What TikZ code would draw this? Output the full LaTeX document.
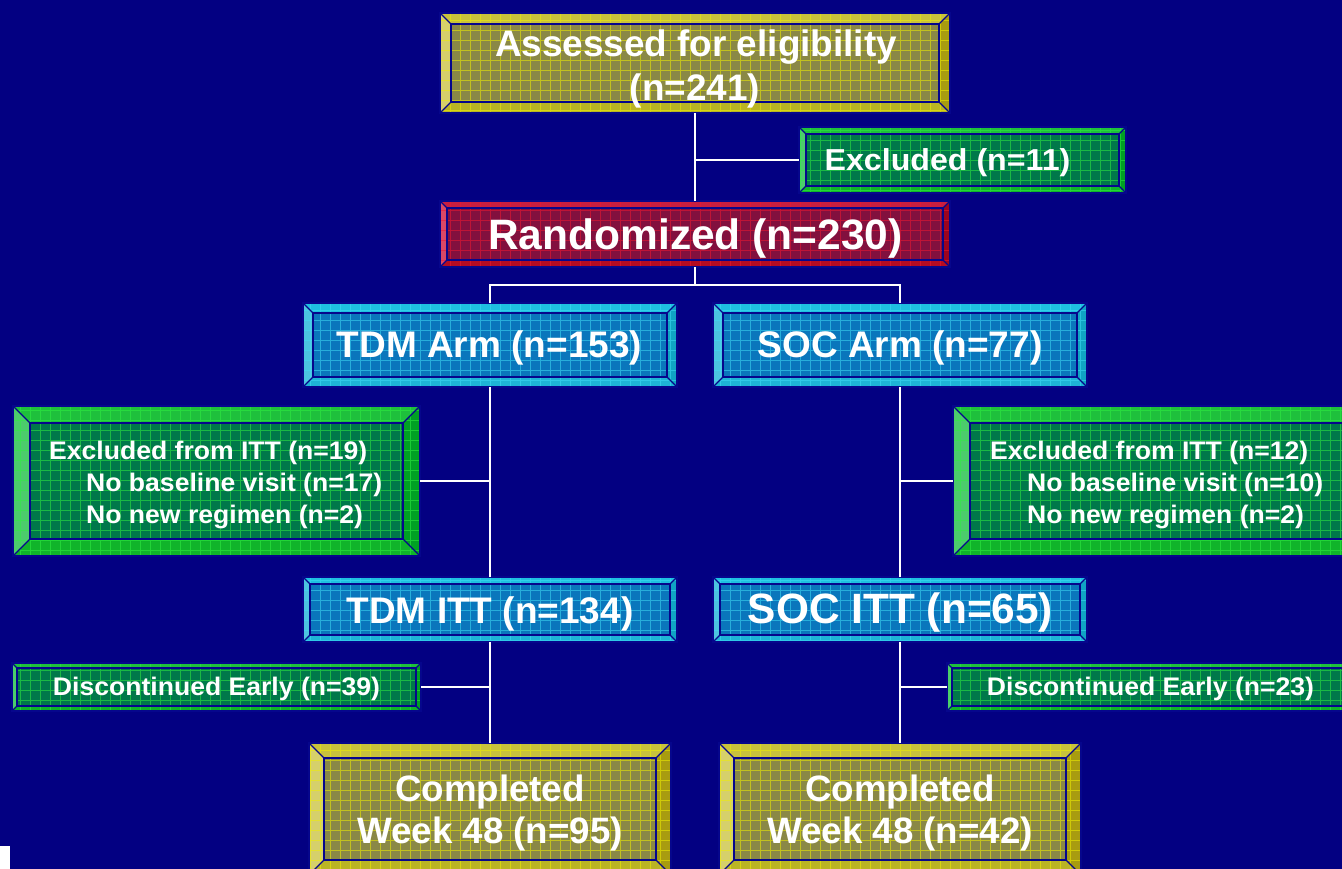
\documentclass[tikz,border=0pt]{standalone}
\usepackage{fontspec}
\usepackage{graphicx}
\setmainfont{Liberation Sans}
\definecolor{bgnavy}{HTML}{030082}
\definecolor{edgenavy}{HTML}{06068C}
% yellow
\definecolor{Yin}{HTML}{8A8846}
\definecolor{Ygrd}{HTML}{F0F000}
\definecolor{Ytop}{HTML}{C8C23C}
\definecolor{Ylft}{HTML}{D6D06A}
\definecolor{Yrgt}{HTML}{A89C10}
\definecolor{Ybot}{HTML}{BAB424}
% red
\definecolor{Rin}{HTML}{82103E}
\definecolor{Rgrd}{HTML}{F01830}
\definecolor{Rtop}{HTML}{C81E40}
\definecolor{Rlft}{HTML}{D84866}
\definecolor{Rrgt}{HTML}{9C0420}
\definecolor{Rbot}{HTML}{B40C22}
% green
\definecolor{Gin}{HTML}{00784A}
\definecolor{Ggrd}{HTML}{30F040}
\definecolor{Gtop}{HTML}{1EC03C}
\definecolor{Glft}{HTML}{4CCC6C}
\definecolor{Grgt}{HTML}{00A024}
\definecolor{Gbot}{HTML}{10B42A}
% blue
\definecolor{Bin}{HTML}{0A76BC}
\definecolor{Bgrd}{HTML}{40DCF4}
\definecolor{Btop}{HTML}{1EC0E0}
\definecolor{Blft}{HTML}{4CC4E0}
\definecolor{Brgt}{HTML}{10A4C4}
\definecolor{Bbot}{HTML}{1EB4D6}
\tikzset{
  edgeline/.style={draw=edgenavy, line width=1.3pt, line join=miter},
  conn/.style={draw=white, line width=2pt},
  txt/.style={text=white, inner sep=0pt, font=\bfseries\fontsize{#1}{#1}\selectfont},
}
\newcommand\wide[1]{\scalebox{1.046}[1]{#1}}
% #1 name, #2 x1, #3 y1, #4 x2, #5 y2, #6 bevel, #7 colour prefix
\newcommand\bevbox[7]{%
  \pgfmathsetmacro\bbw{#4-#2}\pgfmathsetmacro\bbh{#5-#3}%
  \node[inner sep=0pt, minimum width=\bbw pt, minimum height=\bbh pt] (#1) at ({(#2+#4)/2},{(#3+#5)/2}) {};
  \fill[#7top] (#2,#3) -- (#4,#3) -- ({#4-#6},{#3+#6}) -- ({#2+#6},{#3+#6}) -- cycle;
  \fill[#7bot] (#2,#5) -- (#4,#5) -- ({#4-#6},{#5-#6}) -- ({#2+#6},{#5-#6}) -- cycle;
  \fill[#7lft] (#2,#3) -- ({#2+#6},{#3+#6}) -- ({#2+#6},{#5-#6}) -- (#2,#5) -- cycle;
  \fill[#7rgt] (#4,#3) -- ({#4-#6},{#3+#6}) -- ({#4-#6},{#5-#6}) -- (#4,#5) -- cycle;
  \fill[#7in] ({#2+#6},{#3+#6}) rectangle ({#4-#6},{#5-#6});
  \begin{scope}
    \clip (#2,#3) rectangle (#4,#5);
    \draw[#7grd, line width=0.7pt, opacity=0.55, step=10pt] (#2,#3) grid (#4,#5);
  \end{scope}
  \draw[edgeline] (#2,#3) rectangle (#4,#5);
  \draw[edgeline] ({#2+#6},{#3+#6}) rectangle ({#4-#6},{#5-#6});
  \draw[edgeline] (#2,#3) -- ({#2+#6},{#3+#6}) (#4,#3) -- ({#4-#6},{#3+#6})
     (#2,#5) -- ({#2+#6},{#5-#6}) (#4,#5) -- ({#4-#6},{#5-#6});
}
\begin{document}
\begin{tikzpicture}[x=1pt,y=-1pt]
\useasboundingbox (0,0) rectangle (1342,869);
\clip (0,0) rectangle (1342,869);
\fill[bgnavy] (0,0) rectangle (1342,869);

% boxes
\bevbox{assess}{440}{13}{950}{113}{11}{Y}
\bevbox{excl}{799}{127}{1126}{193}{7}{G}
\bevbox{rand}{440}{201}{950}{267}{7}{R}
\bevbox{tdmarm}{303}{303}{677}{387}{10}{B}
\bevbox{socarm}{713}{303}{1087}{387}{10}{B}
\bevbox{exittl}{13}{406}{420}{556}{17}{G}
\bevbox{exittr}{953}{406}{1360}{556}{17}{G}
\bevbox{tdmitt}{303}{577}{677}{642}{7}{B}
\bevbox{socitt}{713}{577}{1087}{642}{7}{B}
\bevbox{discl}{12}{663}{421}{711}{5}{G}
\bevbox{discr}{947}{663}{1356}{711}{5}{G}
\bevbox{compl}{309}{743}{671}{875}{15}{Y}
\bevbox{compr}{719}{743}{1081}{875}{15}{Y}

% texts
\node[txt=36.9, anchor=base] (assess-t1) at (696,57) {Assessed for eligibility};
\node[txt=36.9, anchor=base] (assess-t2) at (695,101) {(n=241)};
\node[txt=30.3, anchor=base] (excl-t) at (947.5,171) {\scalebox{1.061}[1]{Excluded (n=11)}};
\node[txt=42.5, anchor=base] (rand-t) at (695.5,250) {Randomized (n=230)};
\node[txt=37, anchor=base] (tdmarm-t) at (489.5,357) {TDM Arm (n=153)};
\node[txt=37, anchor=base] (socarm-t) at (900,357) {SOC Arm (n=77)};
\node[txt=25.4, anchor=base west] (exittl-t1) at (49,459) {\wide{Excluded from ITT (n=19)}};
\node[txt=25.4, anchor=base west] (exittl-t2) at (86,491) {\wide{No baseline visit (n=17)}};
\node[txt=25.4, anchor=base west] (exittl-t3) at (86,523) {\wide{No new regimen (n=2)}};
\node[txt=25.4, anchor=base west] (exittr-t1) at (990,459) {\wide{Excluded from ITT (n=12)}};
\node[txt=25.4, anchor=base west] (exittr-t2) at (1027,491) {\wide{No baseline visit (n=10)}};
\node[txt=25.4, anchor=base west] (exittr-t3) at (1027,523) {\wide{No new regimen (n=2)}};
\node[txt=37, anchor=base] (tdmitt-t) at (490,623) {TDM ITT (n=134)};
\node[txt=42.4, anchor=base] (socitt-t) at (900.5,623) {SOC ITT (n=65)};
\node[txt=25.4, anchor=base] (discl-t) at (216.5,695) {\wide{Discontinued Early (n=39)}};
\node[txt=25.4, anchor=base] (discr-t) at (1150.5,695) {\wide{Discontinued Early (n=23)}};
\node[txt=36.7, anchor=base] (compl-t1) at (490,801) {Completed};
\node[txt=36.7, anchor=base] (compl-t2) at (490,843) {Week 48 (n=95)};
\node[txt=36.7, anchor=base] (compr-t1) at (900,801) {Completed};
\node[txt=36.7, anchor=base] (compr-t2) at (900,843) {Week 48 (n=42)};

% connectors
\coordinate (split) at (695,285);
\draw[conn] (assess.south) -- (rand.north);
\draw[conn] (assess.south |- excl.west) -- (excl.west);
\draw[conn] (rand.south) -- (split);
\draw[conn] (tdmarm.north) |- (split) -| (socarm.north);
\draw[conn] (tdmarm.south) -- (tdmitt.north);
\draw[conn] (exittl.east) -- (exittl.east -| tdmarm.south);
\draw[conn] (socarm.south) -- (socitt.north);
\draw[conn] (socarm.south |- exittr.west) -- (exittr.west);
\draw[conn] (tdmitt.south) -- (compl.north);
\draw[conn] (discl.east) -- (discl.east -| tdmitt.south);
\draw[conn] (socitt.south) -- (compr.north);
\draw[conn] (socitt.south |- discr.west) -- (discr.west);

% small white block at bottom left
\fill[white] (0,846) rectangle (10,869);
\end{tikzpicture}
\end{document}
